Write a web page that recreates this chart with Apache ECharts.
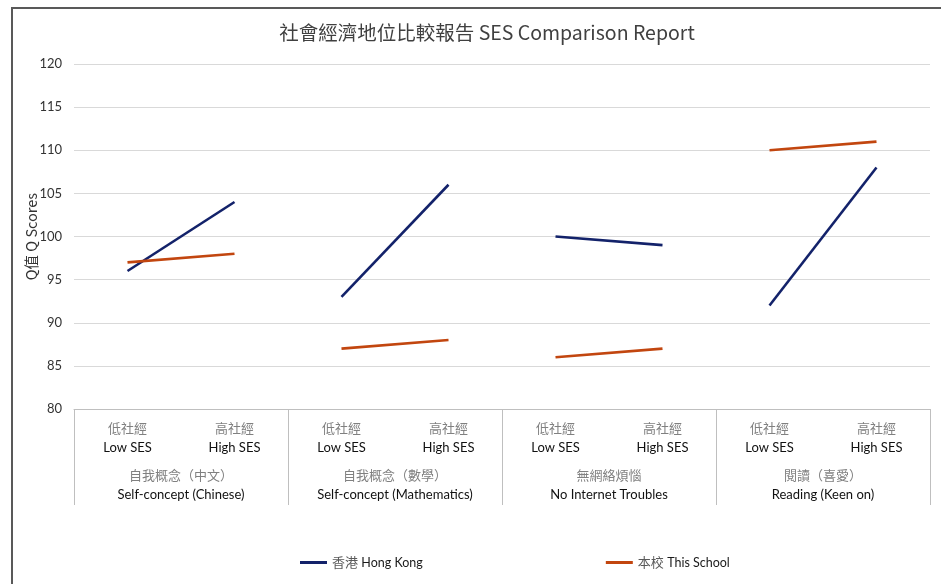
<!DOCTYPE html>
<html>
<head>
<meta charset="utf-8">
<script src="https://cdn.jsdelivr.net/npm/echarts@6/dist/echarts.min.js"></script>
<style>
  html, body { margin: 0; padding: 0; background: #ffffff; }
  #chart { width: 941px; height: 584px; }
</style>
</head>
<body>
<div id="chart"></div>
<script>
// SES level labels (inner category level)
const sesCn = ['低社經', '高社經', '低社經', '高社經', '低社經', '高社經', '低社經', '高社經'];
const sesEn = ['Low SES', 'High SES', 'Low SES', 'High SES', 'Low SES', 'High SES', 'Low SES', 'High SES'];

// Domain labels (outer category level)
const groupCn = ['自我概念（中文）', '自我概念（數學）', '無網絡煩惱', '閱讀（喜愛）'];
const groupEn = ['Self-concept (Chinese)', 'Self-concept (Mathematics)', 'No Internet Troubles', 'Reading (Keen on)'];

// Q scores per domain: [Low SES, High SES]
const hongKong = [[96, 104], [93, 106], [100, 99], [92, 108]];
const thisSchool = [[97, 98], [87, 88], [86, 87], [110, 111]];

const yTicks = { min: 80, max: 120, interval: 5 };

const seriesNames = ['香港 Hong Kong', '本校 This School'];
const seriesColors = ['#13226a', '#c2460f'];

const cnFont = '"Noto Sans CJK TC", "Noto Sans CJK SC", sans-serif';
const enFont = 'Lato, "Open Sans", sans-serif';

// Each domain is drawn as its own two-point segment so lines do not join across domains
function segmentSeries(values, name, color) {
  return values.map((pair, g) => {
    const data = sesEn.map(() => '-');
    data[g * 2] = pair[0];
    data[g * 2 + 1] = pair[1];
    return {
      name: name,
      type: 'line',
      xAxisIndex: 0,
      data: data,
      symbol: 'none',
      connectNulls: false,
      lineStyle: { color: color, width: 2.6 },
      itemStyle: { color: color },
      emphasis: { disabled: true },
      z: 3
    };
  });
}

const chart = echarts.init(document.getElementById('chart'), null, { renderer: 'canvas' });

chart.setOption({
  animation: false,
  backgroundColor: '#ffffff',
  title: {
    text: '社會經濟地位比較報告 SES Comparison Report',
    left: 482,
    textAlign: 'center',
    top: 18,
    textStyle: { fontFamily: cnFont, fontSize: 19.5, fontWeight: 'normal', color: '#404040' }
  },
  graphic: [{
    type: 'rect',
    shape: { x: 12, y: 8, width: 1200, height: 1200 },
    style: { fill: 'none', stroke: '#595959', lineWidth: 2 },
    silent: true
  }],
  legend: {
    data: seriesNames,
    bottom: 10,
    left: 295,
    itemGap: 183,
    itemWidth: 27,
    itemHeight: 3,
    icon: 'rect',
    textStyle: {
      rich: {
        cn: { fontFamily: cnFont, fontSize: 13, color: '#595959' },
        en: { fontFamily: enFont, fontSize: 12.5, color: '#1a1a1a' }
      }
    },
    formatter: function (n) {
      const i = n.indexOf(' ');
      return '{cn|' + n.slice(0, i) + '} {en|' + n.slice(i + 1) + '}';
    }
  },
  grid: { left: 74, right: 11, top: 64, bottom: 175, containLabel: false },
  xAxis: [
    {
      type: 'category',
      data: sesEn.map((e, i) => sesCn[i] + '\n' + e),
      boundaryGap: true,
      axisLine: { show: true, lineStyle: { color: '#bfbfbf', width: 1 } },
      axisTick: { show: false },
      axisLabel: {
        interval: 0,
        margin: 9,
        formatter: function (v) {
          const p = v.split('\n');
          return '{cn|' + p[0] + '}\n{en|' + p[1] + '}';
        },
        rich: {
          cn: { fontFamily: cnFont, fontSize: 13, color: '#808080', lineHeight: 20 },
          en: { fontFamily: enFont, fontSize: 13, color: '#111111', lineHeight: 20 }
        }
      },
      splitLine: { show: false }
    },
    {
      type: 'category',
      position: 'bottom',
      offset: 0,
      data: groupEn.map((e, i) => groupCn[i] + '\n' + e),
      boundaryGap: true,
      axisLine: { show: false },
      axisTick: { show: true, length: 96, alignWithLabel: false, lineStyle: { color: '#bfbfbf', width: 1 } },
      axisLabel: {
        interval: 0,
        margin: 57,
        formatter: function (v) {
          const p = v.split('\n');
          return '{cn|' + p[0] + '}\n{en|' + p[1] + '}';
        },
        rich: {
          cn: { fontFamily: cnFont, fontSize: 13, color: '#808080', lineHeight: 19 },
          en: { fontFamily: enFont, fontSize: 13, color: '#111111', lineHeight: 19 }
        }
      },
      splitLine: { show: false }
    }
  ],
  yAxis: {
    type: 'value',
    min: yTicks.min,
    max: yTicks.max,
    interval: yTicks.interval,
    name: 'Q值 Q Scores',
    nameLocation: 'middle',
    nameGap: 35,
    nameMoveOverlap: false,
    nameRotate: 90,
    nameTextStyle: { fontFamily: cnFont, fontSize: 14.5, color: '#333333' },
    axisLine: { show: false },
    axisTick: { show: false },
    axisLabel: { margin: 12, fontFamily: enFont, fontSize: 13, color: '#333333' },
    splitLine: { show: true, lineStyle: { color: '#d9d9d9', width: 1 } }
  },
  series: [].concat(
    segmentSeries(hongKong, seriesNames[0], seriesColors[0]),
    segmentSeries(thisSchool, seriesNames[1], seriesColors[1])
  )
});
</script>
</body>
</html>
